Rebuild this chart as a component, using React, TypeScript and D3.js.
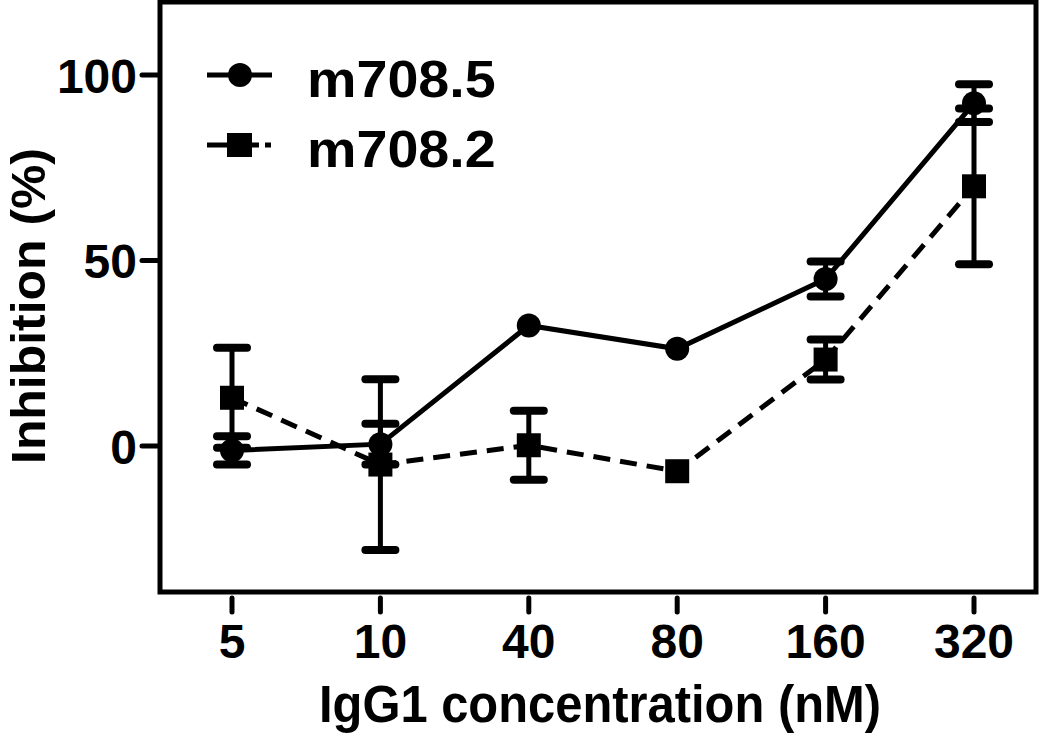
import React from "react";
import * as d3 from "d3";

const categories = ["5", "10", "40", "80", "160", "320"];
const m7085Mean = [-1.2, 0.5, 32.5, 26.2, 45.0, 92.4];
const m7085Err = [3.8, 5.5, 0, 0, 4.7, 5.1];
const m7082Mean = [13.0, -5.0, 0.2, -6.8, 23.3, 70.0];
const m7082Err = [13.5, 23.0, 9.3, 0, 5.4, 21.0];
const yTicks = [0, 50, 100];

const W = 1050, H = 734;
const left = 160, right = 1036, top = 2, bottom = 592;

export default function App() {
  const x = d3.scalePoint<string>().domain(categories).range([232, 974]);
  const y = d3.scaleLinear().domain([0, 100]).range([446, 75]);
  const line = d3.line<number>().x((_, i) => x(categories[i])!).y((d) => y(d));
  const sw = 5;
  const capW = 15;
  const errBars = (means: number[], errs: number[], key: string) =>
    means.map((m, i) =>
      errs[i] > 0 ? (
        <g key={key + i} stroke="#000" strokeWidth={sw} strokeLinecap="round">
          <line x1={x(categories[i])} x2={x(categories[i])} y1={y(m - errs[i])} y2={y(m + errs[i])} />
          <line x1={x(categories[i])! - capW} x2={x(categories[i])! + capW} y1={y(m + errs[i])} y2={y(m + errs[i])} strokeWidth={8} />
          <line x1={x(categories[i])! - capW} x2={x(categories[i])! + capW} y1={y(m - errs[i])} y2={y(m - errs[i])} strokeWidth={8} />
        </g>
      ) : null
    );
  const sans = "'Liberation Sans', Arial, sans-serif";
  return (
    <svg width={W} height={H} style={{ display: "block", position: "absolute", left: 0, top: 0 }}>
      <rect x={0} y={0} width={W} height={H} fill="#fff" />
      {/* frame */}
      <rect x={left} y={top} width={right - left} height={bottom - top} fill="none" stroke="#000" strokeWidth={5} />
      {/* y ticks */}
      {yTicks.map((t) => (
        <g key={"yt" + t}>
          <line x1={142} x2={158} y1={y(t)} y2={y(t)} stroke="#000" strokeWidth={5} strokeLinecap="round" />
          <text x={137} y={y(t)} dy="0.37em" textAnchor="end" fontFamily={sans} fontWeight="bold" fontSize={48}>{t}</text>
        </g>
      ))}
      {/* x ticks */}
      {categories.map((c) => (
        <g key={"xt" + c}>
          <line x1={x(c)} x2={x(c)} y1={598} y2={612} stroke="#000" strokeWidth={5} strokeLinecap="round" />
          <text x={x(c)} y={658} textAnchor="middle" fontFamily={sans} fontWeight="bold" fontSize={48}>{c}</text>
        </g>
      ))}
      <text transform="translate(600,722) scale(0.94,1)" textAnchor="middle" fontFamily={sans} fontWeight="bold" fontSize={52}>IgG1 concentration (nM)</text>
      <text transform="translate(45,306) rotate(-90) scale(1.04,1)" textAnchor="middle" fontFamily={sans} fontWeight="bold" fontSize={48}>Inhibition (%)</text>
      {/* error bars */}
      {errBars(m7085Mean, m7085Err, "a")}
      {errBars(m7082Mean, m7082Err, "b")}
      {/* lines */}
      <path d={line(m7082Mean)!} fill="none" stroke="#000" strokeWidth={sw} strokeDasharray="17,10" />
      <path d={line(m7085Mean)!} fill="none" stroke="#000" strokeWidth={sw} />
      {/* markers */}
      {m7085Mean.map((m, i) => (
        <circle key={"c" + i} cx={x(categories[i])} cy={y(m)} r={12} fill="#000" />
      ))}
      {m7082Mean.map((m, i) => (
        <rect key={"s" + i} x={x(categories[i])! - 12} y={y(m) - 12} width={24} height={24} fill="#000" />
      ))}
      {/* legend */}
      <line x1={207} x2={272} y1={75} y2={75} stroke="#000" strokeWidth={sw} />
      <circle cx={240} cy={75} r={12} fill="#000" />
      <text transform="translate(307,97) scale(1.07,1)" fontFamily={sans} fontWeight="bold" fontSize={52}>m708.5</text>
      <line x1={207} x2={259} y1={145} y2={145} stroke="#000" strokeWidth={sw} />
      <line x1={265} x2={271} y1={145} y2={145} stroke="#000" strokeWidth={sw} />
      <rect x={227} y={133} width={25} height={24} fill="#000" />
      <text transform="translate(307,167) scale(1.07,1)" fontFamily={sans} fontWeight="bold" fontSize={52}>m708.2</text>
    </svg>
  );
}
